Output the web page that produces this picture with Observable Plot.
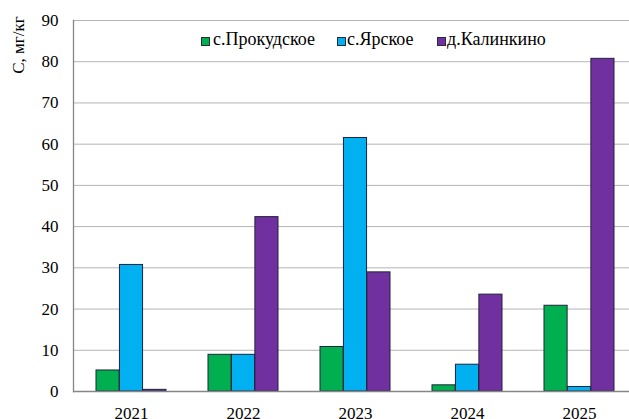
<!DOCTYPE html>
<html><head><meta charset="utf-8">
<script src="https://cdn.jsdelivr.net/npm/d3@7"></script>
<script src="https://cdn.jsdelivr.net/npm/@observablehq/plot@0.6"></script>
<style>
body{margin:0;background:#fff;}
#wrap{position:relative;width:629px;height:419px;overflow:hidden;font-family:'Times New Roman','Liberation Serif','DejaVu Serif',serif;color:#000;}
#wrap svg{position:absolute;left:0;top:0;}
#wrap svg text{font-family:'Times New Roman','Liberation Serif','DejaVu Serif',serif !important;}
.leg{position:absolute;top:28.5px;line-height:20px;font-size:18px;white-space:nowrap;}
.sw{position:absolute;top:37px;width:7px;height:7px;border:1px solid #2a2a3a;}
#ylab{position:absolute;left:19px;top:45px;font-size:17px;white-space:nowrap;transform:translate(-50%,-50%) rotate(-90deg);}
</style></head><body><div id="wrap"></div>
<script>
const years = ["2021","2022","2023","2024","2025"];
const series = ["с.Прокудское","с.Ярское","д.Калинкино"];
const prokudskoe = [5.1, 8.9, 10.8, 1.5, 20.8];
const yarskoe = [30.7, 8.9, 61.5, 6.5, 1.1];
const kalinkino = [0.4, 42.3, 28.9, 23.5, 80.7];
const colors = ["#00b050","#00b0f0","#7030a0"];
const yTicks = [0,10,20,30,40,50,60,70,80,90];
const yLabel = "С, мг/кг";

const allValues = [prokudskoe, yarskoe, kalinkino];
const rows = [];
series.forEach((s, i) => years.forEach((y, j) => rows.push({year: y, series: s, idx: i, value: allValues[i][j]})));

const x0 = 73, x1 = 636.5, pIn = 0.376, pOut = 0.188;
const step = (x1 - x0) / (years.length - pIn + 2 * pOut);
const bw = step * (1 - pIn);
const sub = bw / series.length;

const barMarks = series.map((s, i) => Plot.barY(rows.filter(r => r.series === s), {
  x: "year", y: "value", fill: colors[i], stroke: "#22223a", strokeWidth: 1,
  insetLeft: i * sub, insetRight: (series.length - 1 - i) * sub
}));

const chart = Plot.plot({
  width: 629, height: 419,
  marginLeft: 73, marginTop: 20, marginBottom: 28, marginRight: 0,
  style: {fontSize: "17px", background: "transparent", color: "#000"},
  x: {domain: years, range: [x0, x1], paddingInner: pIn, paddingOuter: pOut, align: 0.5},
  y: {domain: [0, 90]},
  marks: [
    Plot.gridY(yTicks.filter(d => d > 0), {stroke: "#b4b4b4", strokeOpacity: 1, strokeWidth: 1}),
    ...barMarks,
    Plot.ruleY([0], {stroke: "#868686", strokeWidth: 1.3}),
    Plot.frame({anchor: "left", stroke: "#868686", strokeWidth: 1.3}),
    Plot.axisY(yTicks, {tickSize: 0, tickPadding: 15, fontSize: 17, label: null}),
    Plot.axisX(years, {tickSize: 0, tickPadding: 15, fontSize: 17, label: null})
  ]
});
chart.style.fontFamily = "'Times New Roman','Liberation Serif','DejaVu Serif',serif";

const wrap = document.getElementById("wrap");
wrap.appendChild(chart);

const yl = document.createElement("div");
yl.id = "ylab"; yl.textContent = yLabel; wrap.appendChild(yl);

const legPos = [[201, 213], [337, 347], [437, 447]];
series.forEach((s, i) => {
  const sw = document.createElement("div");
  sw.className = "sw"; sw.style.left = legPos[i][0] + "px"; sw.style.background = colors[i];
  wrap.appendChild(sw);
  const t = document.createElement("div");
  t.className = "leg"; t.style.left = legPos[i][1] + "px"; t.textContent = s;
  wrap.appendChild(t);
});
</script></body></html>
